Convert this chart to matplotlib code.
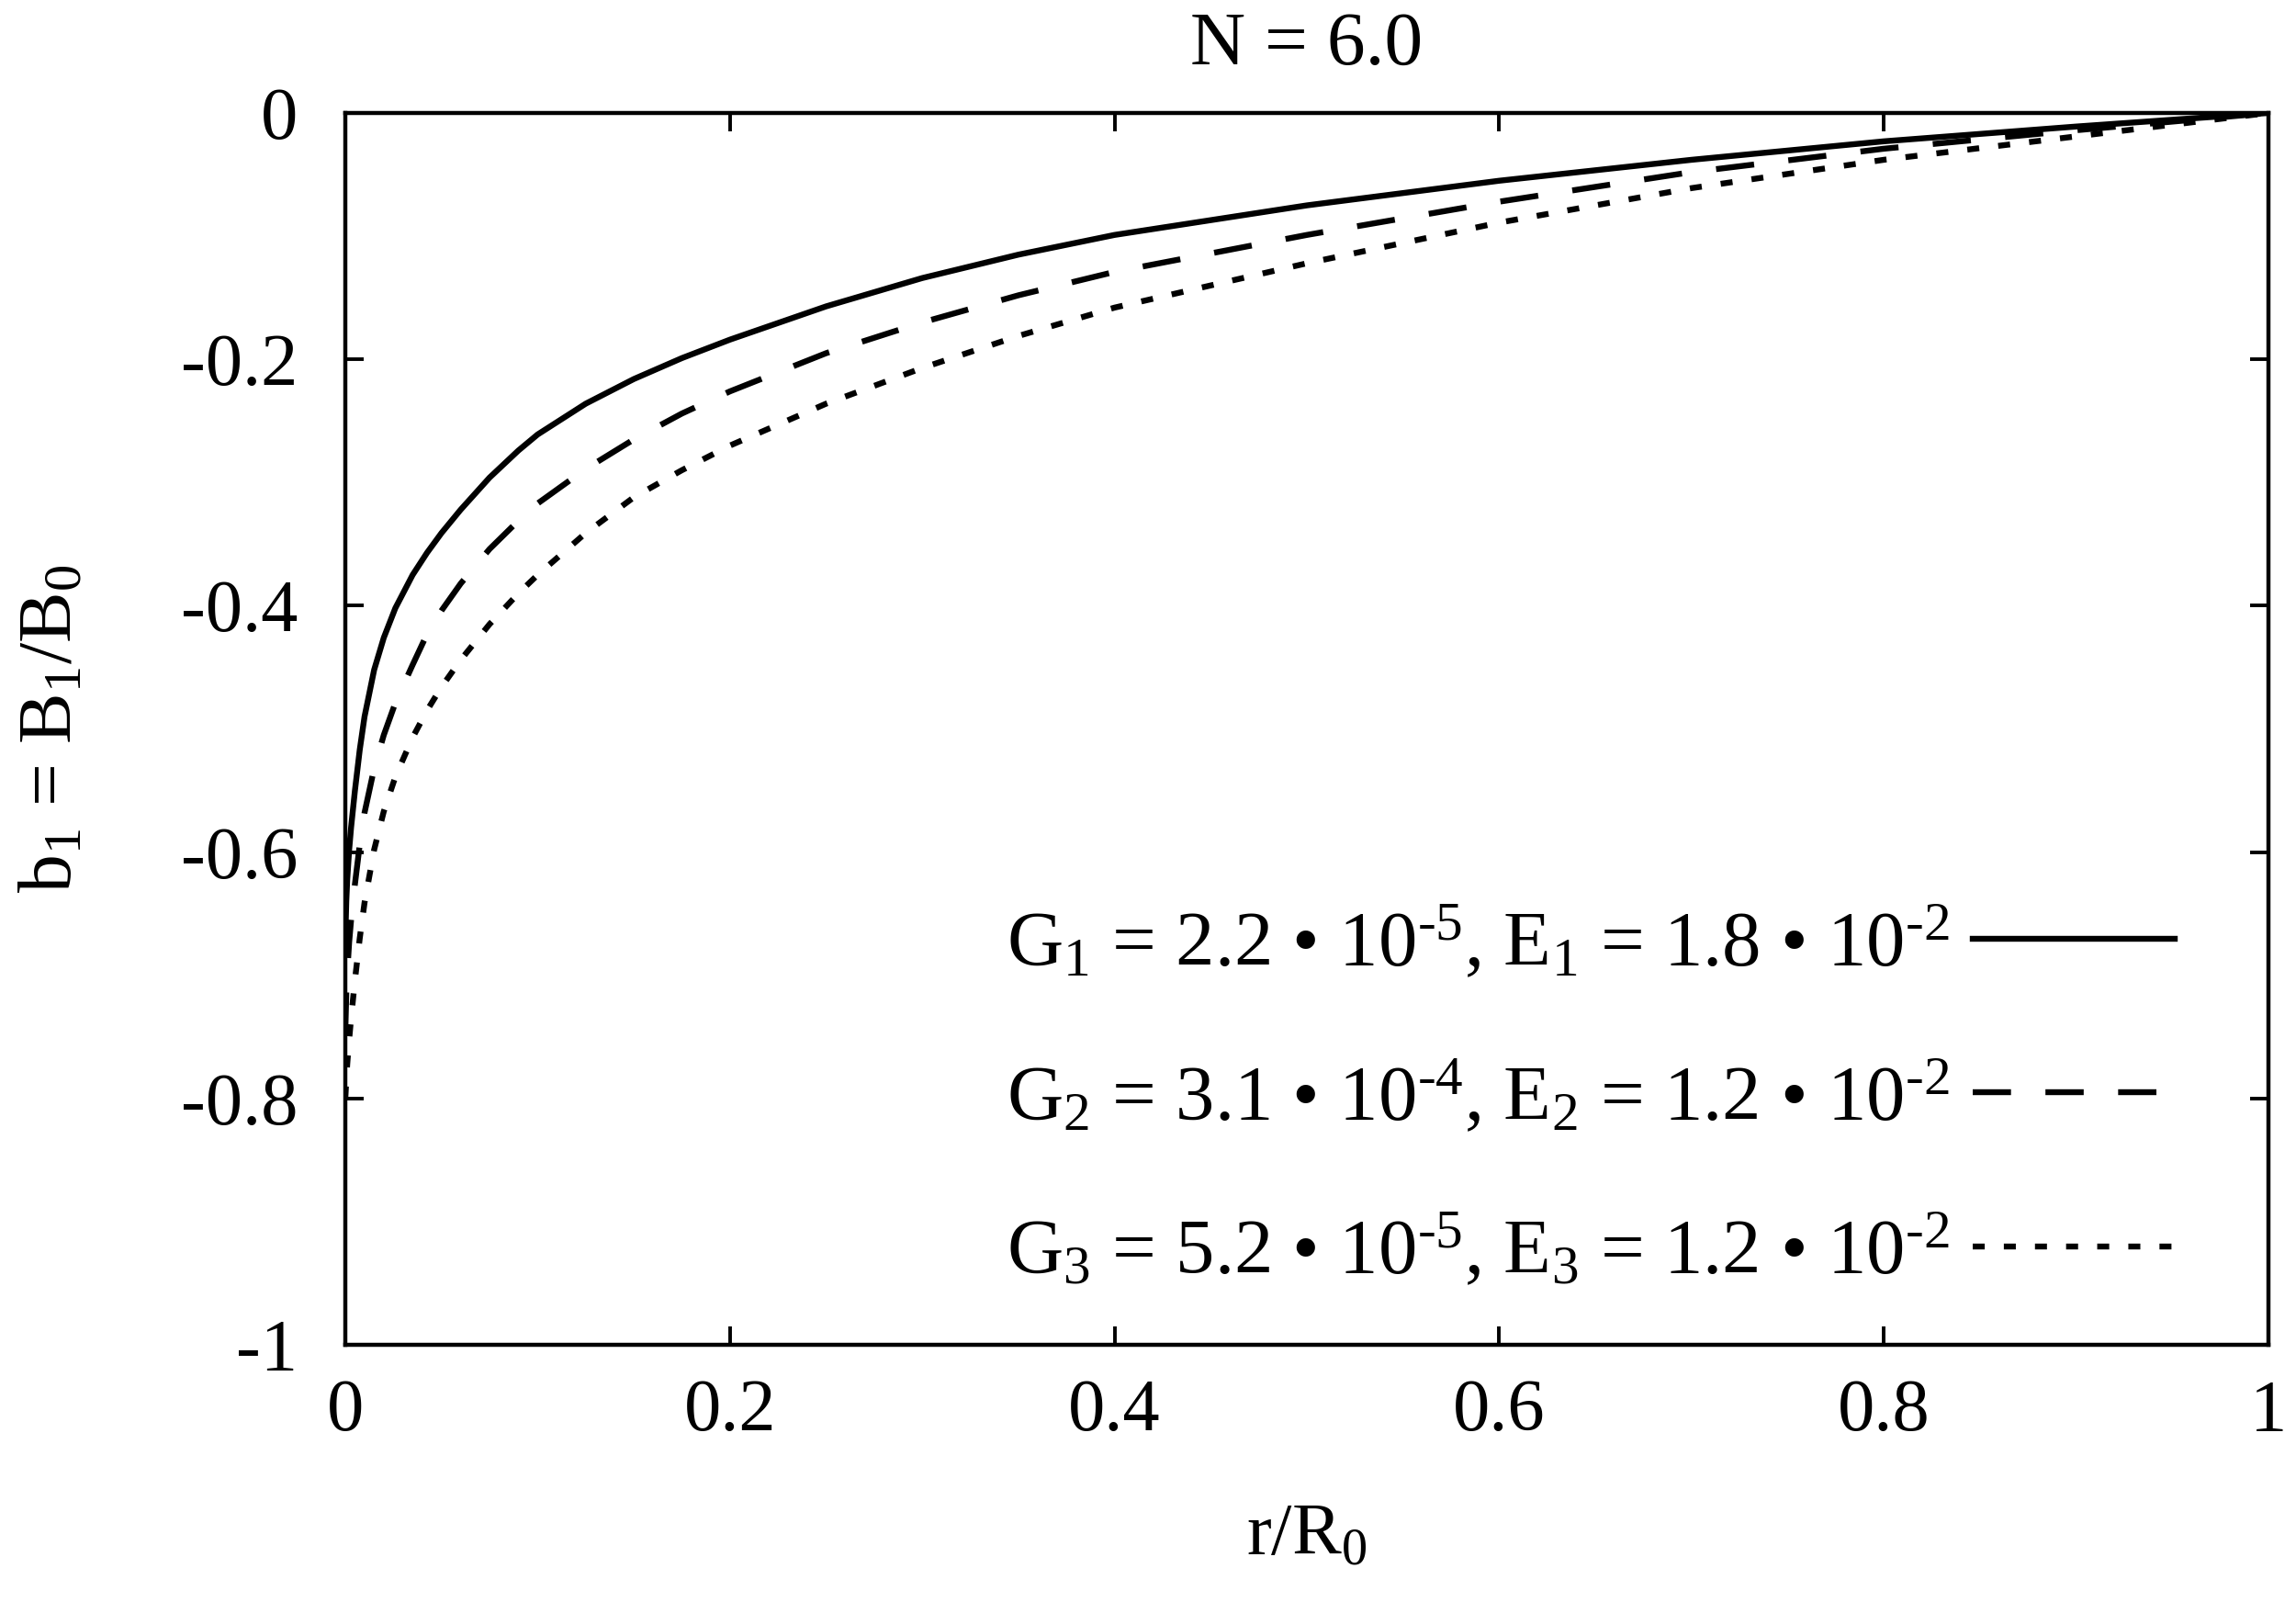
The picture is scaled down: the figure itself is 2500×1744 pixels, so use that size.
import numpy as np
import matplotlib
matplotlib.use('Agg')
import matplotlib.pyplot as plt
from matplotlib.ticker import FixedLocator, FuncFormatter

# values (r/R0 and b1 for the three parameter sets)
r = [0.0, 0.0005, 0.001, 0.002, 0.003, 0.005, 0.0075, 0.01, 0.015, 0.02,
     0.026, 0.035, 0.0425, 0.05, 0.06, 0.075, 0.09, 0.1, 0.125, 0.15,
     0.175, 0.2, 0.25, 0.3, 0.35, 0.4, 0.5, 0.6, 0.7, 0.8, 0.9, 1.0]
b_set1 = [-0.67, -0.64, -0.622, -0.598, -0.58, -0.55, -0.517, -0.49, -0.452,
          -0.426, -0.402, -0.375, -0.357, -0.341, -0.322, -0.296, -0.274,
          -0.261, -0.236, -0.216, -0.199, -0.184, -0.157, -0.134, -0.115,
          -0.099, -0.075, -0.055, -0.038, -0.023, -0.011, 0.0]
b_set2 = [-0.745, -0.715, -0.698, -0.673, -0.655, -0.626, -0.594, -0.568,
          -0.532, -0.505, -0.479, -0.448, -0.423, -0.404, -0.382, -0.354,
          -0.331, -0.317, -0.289, -0.265, -0.244, -0.226, -0.195, -0.170,
          -0.148, -0.129, -0.099, -0.072, -0.048, -0.029, -0.014, 0.0]
b_set3 = [-0.80, -0.785, -0.772, -0.752, -0.735, -0.704, -0.670, -0.641,
          -0.598, -0.567, -0.539, -0.507, -0.485, -0.466, -0.444, -0.415,
          -0.390, -0.375, -0.341, -0.312, -0.290, -0.270, -0.236, -0.207,
          -0.181, -0.158, -0.122, -0.089, -0.061, -0.038, -0.019, 0.0]

labels = [r'G$_1$ = 2.2 • 10$^{\text{-5}}$, E$_1$ = 1.8 • 10$^{\text{-2}}$',
          r'G$_2$ = 3.1 • 10$^{\text{-4}}$, E$_2$ = 1.2 • 10$^{\text{-2}}$',
          r'G$_3$ = 5.2 • 10$^{\text{-5}}$, E$_3$ = 1.2 • 10$^{\text{-2}}$']
x_ticks = [0, 0.2, 0.4, 0.6, 0.8, 1.0]
y_ticks = [-1, -0.8, -0.6, -0.4, -0.2, 0]

plt.rcParams['font.family'] = ['Liberation Serif', 'DejaVu Serif']
plt.rcParams['mathtext.fontset'] = 'custom'
plt.rcParams['mathtext.rm'] = 'Liberation Serif'
plt.rcParams['mathtext.it'] = 'Liberation Serif:italic'
plt.rcParams['mathtext.bf'] = 'Liberation Serif:bold'
plt.rcParams['axes.unicode_minus'] = False
plt.rcParams['lines.scale_dashes'] = False

FS = 58
W, H = 2500, 1744
fig = plt.figure(figsize=(W / 100, H / 100), dpi=100)
ax = fig.add_axes([376 / W, 1 - 1464 / H, (2470 - 376) / W, (1464 - 123) / H])

lw = 4.6
ax.plot(r, b_set1, color='black', lw=lw, ls='-', label=labels[0])
ax.plot(r, b_set2, color='black', lw=lw, ls=(0, (30, 27)), label=labels[1])
ax.plot(r, b_set3, color='black', lw=lw, ls=(0, (9.4, 15)), label=labels[2])

ax.set_xlim(0, 1)
ax.set_ylim(-1, 0)
ax.xaxis.set_major_locator(FixedLocator(x_ticks))
ax.yaxis.set_major_locator(FixedLocator(y_ticks))
fmt = FuncFormatter(lambda v, pos: '%g' % v)
ax.xaxis.set_major_formatter(fmt)
ax.yaxis.set_major_formatter(fmt)
ax.tick_params(direction='in', length=14.5, width=2.8, labelsize=FS,
               top=True, right=True)
ax.tick_params(axis='x', pad=27)
ax.tick_params(axis='y', pad=37)
for s in ax.spines.values():
    s.set_linewidth(3.2)

ax.set_xlabel(r'r/R$_0$', fontsize=FS, va='baseline')
ax.xaxis.set_label_coords(0.5, -0.170)
ax.set_ylabel(r'b$_1$ = B$_1$/B$_0$', fontsize=60, va='baseline')
ax.yaxis.set_label_coords(-0.1428, 0.5)
ax.set_title('N = 6.0', fontsize=60, pad=38)

leg = ax.legend(loc='lower right', bbox_to_anchor=(0.9675, 0.019), frameon=False,
                fontsize=61, markerfirst=False, handlelength=2.6,
                handletextpad=0.3, labelspacing=0.99, borderaxespad=0)
for t in leg.get_texts():
    t.set_ha('right')

fig.savefig('out.png', dpi=100)
